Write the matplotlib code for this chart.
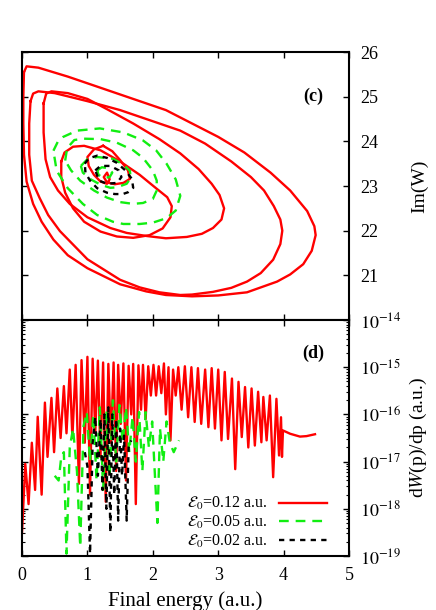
import numpy as np
import matplotlib
matplotlib.use("Agg")
import matplotlib.pyplot as plt
from matplotlib.ticker import LogLocator, NullFormatter, FixedLocator

plt.rcParams["font.family"] = ["Liberation Serif", "DejaVu Serif"]
plt.rcParams["mathtext.fontset"] = "stix"
plt.rcParams["lines.scale_dashes"] = False

# ---- panel (c): trajectories in the complex W plane (Re -> final energy, Im(W))
# E0 = 0.12 a.u. (red, solid) -- several loops of one spiral
red_a_x = [0.03, 0.07, 0.25, 0.7, 1.2, 1.7, 2.2, 2.6, 3.0, 3.4, 3.8, 4.1, 4.36, 4.47, 4.49,
           4.43, 4.3, 4.1, 3.9, 3.44, 3.0, 2.6, 2.2, 1.9, 1.5, 1.0, 0.7, 0.48, 0.3, 0.17,
           0.07, 0.03, 0.02, 0.02, 0.03]
red_a_y = [25.55, 25.68, 25.65, 25.45, 25.2, 24.95, 24.7, 24.4, 24.1, 23.75, 23.3, 22.9, 22.44,
           22.1, 21.9, 21.55, 21.25, 21.02, 20.86, 20.62, 20.55, 20.53, 20.56, 20.64, 20.8,
           21.16, 21.45, 21.8, 22.2, 22.6, 23.1, 23.7, 24.4, 25.0, 25.55]
red_b_x = [0.13, 0.17, 0.25, 0.5, 1.0, 1.5, 2.0, 2.42, 2.8, 3.2, 3.5, 3.7, 3.85, 3.95, 3.98,
           3.95, 3.84, 3.65, 3.44, 3.2, 2.92, 2.6, 2.42, 2.1, 1.8, 1.5, 1.0, 0.58, 0.4, 0.27,
           0.15, 0.11, 0.11, 0.13]
red_b_y = [24.9, 25.07, 25.12, 25.08, 24.9, 24.7, 24.45, 24.24, 23.95, 23.55, 23.2, 22.9, 22.55,
           22.25, 22.0, 21.7, 21.35, 21.05, 20.86, 20.72, 20.63, 20.57, 20.56, 20.62, 20.73,
           20.9, 21.36, 21.99, 22.35, 22.73, 23.12, 23.7, 24.4, 24.9]
red_c_x = [0.33, 0.37, 0.45, 0.7, 1.0, 1.3, 1.7, 2.1, 2.42, 2.7, 2.9, 3.02, 3.09, 3.05, 2.92,
           2.75, 2.52, 2.2, 1.91, 1.6, 1.35, 1.0, 0.73, 0.55, 0.43, 0.36, 0.33, 0.33]
red_c_y = [24.85, 25.07, 25.12, 25.08, 24.95, 24.72, 24.4, 24.05, 23.73, 23.38, 23.05, 22.8,
           22.5, 22.25, 22.06, 21.93, 21.86, 21.83, 21.88, 21.95, 22.06, 22.3, 22.6, 22.9,
           23.2, 23.6, 24.2, 24.85]
red_d_x = [0.6, 0.65, 0.78, 0.95, 1.2, 1.5, 1.8, 2.05, 2.22, 2.29, 2.27, 2.15, 1.95, 1.7,
           1.45, 1.2, 0.95, 0.78, 0.66, 0.6, 0.6]
red_d_y = [23.55, 23.75, 23.88, 23.9, 23.8, 23.55, 23.25, 22.95, 22.75, 22.55, 22.3, 22.05,
           21.9, 21.84, 21.87, 21.98, 22.2, 22.5, 22.85, 23.2, 23.55]
red_e_x = [1.24, 1.1, 1.0, 1.02, 1.1, 1.2, 1.3, 1.34, 1.3, 1.25, 1.3, 1.42, 1.55, 1.65, 1.62,
           1.5, 1.38, 1.24]
red_e_y = [23.9, 23.82, 23.65, 23.45, 23.25, 23.1, 23.05, 23.15, 23.3, 23.2, 23.08, 23.04,
           23.07, 23.16, 23.35, 23.58, 23.78, 23.9]

# E0 = 0.05 a.u. (green, dashed)
grn_a_x = [0.48, 0.55, 0.63, 0.84, 1.19, 1.55, 1.85, 2.05, 2.21, 2.35, 2.42, 2.35, 2.21, 2.0,
           1.8, 1.55, 1.39, 1.15, 0.93, 0.7, 0.53, 0.48]
grn_a_y = [23.79, 24.0, 24.1, 24.24, 24.29, 24.2, 24.02, 23.8, 23.5, 23.15, 22.78, 22.45,
           22.28, 22.18, 22.15, 22.15, 22.2, 22.35, 22.6, 22.95, 23.34, 23.79]
grn_b_x = [0.66, 0.69, 0.8, 0.94, 1.2, 1.45, 1.7, 1.85, 2.0, 2.06, 2.06, 2.0, 1.85, 1.7, 1.5,
           1.3, 1.1, 0.89, 0.75, 0.66]
grn_b_y = [23.57, 23.85, 24.03, 24.06, 24.05, 23.97, 23.8, 23.63, 23.35, 23.12, 22.9, 22.71,
           22.62, 22.6, 22.64, 22.74, 22.9, 23.12, 23.35, 23.57]
grn_c_x = [0.9, 1.0, 1.15, 1.39, 1.55, 1.65, 1.66, 1.6, 1.45, 1.35, 1.2, 1.05, 0.93, 0.9]
grn_c_y = [23.45, 23.6, 23.65, 23.61, 23.48, 23.34, 23.18, 23.05, 22.97, 22.96, 23.03, 23.15,
           23.3, 23.45]
grn_d_x = [1.15, 1.22, 1.32, 1.38, 1.34, 1.25, 1.17, 1.15]
grn_d_y = [23.35, 23.42, 23.4, 23.3, 23.2, 23.18, 23.25, 23.35]

# E0 = 0.02 a.u. (black, short dashes)
blk_a_x = [0.96, 1.02, 1.15, 1.3, 1.45, 1.58, 1.68, 1.7, 1.62, 1.54, 1.42, 1.3, 1.15, 1.04,
           0.97, 0.96]
blk_a_y = [23.5, 23.62, 23.68, 23.63, 23.52, 23.35, 23.16, 22.96, 22.86, 22.82, 22.82, 22.85,
           22.95, 23.12, 23.3, 23.5]
blk_b_x = [1.12, 1.2, 1.35, 1.48, 1.52, 1.45, 1.3, 1.18, 1.12]
blk_b_y = [23.35, 23.45, 23.45, 23.35, 23.2, 23.07, 23.05, 23.12, 23.35]

# ---- panel (d): spectra, values given as log10 of dW(p)/dp
red_spec_x = [0.00, 0.05, 0.10, 0.15, 0.20, 0.24, 0.30, 0.35, 0.39, 0.45, 0.49, 0.54, 0.59,
              0.64, 0.68, 0.73, 0.77, 0.82, 0.87, 0.91, 0.96, 1.00, 1.04, 1.08, 1.12, 1.16,
              1.20, 1.24, 1.28, 1.32, 1.36, 1.40, 1.44, 1.47, 1.51, 1.55, 1.59, 1.63, 1.67,
              1.70, 1.74, 1.78, 1.82, 1.85, 1.89, 1.93, 1.97, 2.01, 2.05, 2.09, 2.13, 2.17,
              2.20, 2.24, 2.27, 2.31, 2.35, 2.39, 2.44, 2.49, 2.54, 2.59, 2.64, 2.69, 2.74,
              2.80, 2.85, 2.90, 2.95, 3.00, 3.05, 3.10, 3.15, 3.21, 3.26, 3.31, 3.36, 3.41,
              3.46, 3.51, 3.56, 3.61, 3.66, 3.69, 3.74, 3.79, 3.84, 3.89, 3.93, 3.96, 3.975,
              3.99, 4.10, 4.25, 4.35, 4.48]
red_spec_log = [-18.5, -17.05, -17.9, -16.6, -17.6, -16.05, -17.7, -15.75, -16.9, -15.65,
                -16.8, -15.45, -16.5, -15.4, -16.4, -15.05, -16.5, -14.95, -17.47, -14.85,
                -16.6, -14.78, -17.7, -14.82, -16.4, -14.86, -16.9, -14.9, -17.85, -14.93,
                -16.6, -14.9, -17.2, -14.95, -16.2, -14.92, -17.4, -14.97, -16.0, -14.93,
                -17.9, -14.96, -15.9, -14.95, -16.1, -14.98, -15.6, -14.95, -15.6, -14.98,
                -15.55, -14.92, -16.0, -15.0, -16.55, -15.05, -15.6, -15.0, -15.9, -14.98,
                -16.06, -15.0, -16.16, -15.02, -16.2, -15.05, -16.27, -15.02, -16.3, -15.05,
                -16.55, -15.1, -16.52, -15.24, -17.16, -15.31, -16.48, -15.42, -16.7, -15.45,
                -16.66, -15.52, -16.59, -15.63, -16.55, -15.6, -17.33, -15.67, -16.87, -16.06,
                -16.9, -16.34, -16.41, -16.47, -16.46, -16.42]

grn_spec_x = [0.50, 0.56, 0.60, 0.64, 0.68, 0.73, 0.78, 0.84, 0.89, 0.94, 0.99, 1.04, 1.09,
              1.14, 1.19, 1.24, 1.29, 1.34, 1.39, 1.44, 1.49, 1.54, 1.59, 1.64, 1.69, 1.74,
              1.79, 1.84, 1.89, 1.94, 1.99, 2.04, 2.07, 2.11, 2.16, 2.21, 2.26, 2.32, 2.40]
grn_spec_log = [-17.3, -17.4, -16.9, -16.8, -18.95, -16.7, -16.3, -17.2, -18.8, -16.25,
                -15.95, -17.0, -16.0, -17.4, -15.85, -17.6, -15.9, -17.3, -15.7, -17.0,
                -15.8, -16.6, -15.85, -16.8, -16.05, -17.0, -15.95, -17.2, -15.95, -16.7,
                -16.15, -17.5, -18.3, -16.3, -17.0, -16.15, -16.6, -16.8, -16.55]

blk_spec_x = [0.96, 1.00, 1.04, 1.08, 1.12, 1.16, 1.20, 1.23, 1.26, 1.29, 1.32, 1.35, 1.38,
              1.41, 1.44, 1.47, 1.50, 1.53, 1.56, 1.60, 1.63, 1.67]
blk_spec_log = [-16.8, -17.1, -18.95, -16.6, -16.05, -17.3, -16.1, -17.6, -16.0, -18.0,
                -15.85, -18.5, -16.0, -17.7, -16.1, -18.25, -16.3, -17.3, -16.45, -18.25,
                -16.7, -16.55]

legend_labels = [r"$\mathcal{E}_0$=0.12 a.u.", r"$\mathcal{E}_0$=0.05 a.u.",
                 r"$\mathcal{E}_0$=0.02 a.u."]

RED = "#ff0000"
GREEN = "#11ee11"
LW = 1.7
GREEN_DASH = (0, (7.0, 5.0))
BLACK_DASH = (0, (3.8, 3.8))

fig = plt.figure(figsize=(4.36, 6.10), dpi=100)
ax1 = fig.add_axes([0.0505, 0.4754, 0.75, 0.4393])
ax2 = fig.add_axes([0.0505, 0.0885, 0.75, 0.3869])

for xs, ys in [(red_a_x, red_a_y), (red_b_x, red_b_y), (red_c_x, red_c_y),
               (red_d_x, red_d_y), (red_e_x, red_e_y)]:
    ax1.plot(xs, ys, color=RED, lw=LW, solid_joinstyle="round")
for xs, ys in [(grn_a_x, grn_a_y), (grn_b_x, grn_b_y), (grn_c_x, grn_c_y), (grn_d_x, grn_d_y)]:
    ax1.plot(xs, ys, color=GREEN, lw=LW, linestyle=GREEN_DASH)
for xs, ys in [(blk_a_x, blk_a_y), (blk_b_x, blk_b_y)]:
    ax1.plot(xs, ys, color="black", lw=LW, linestyle=BLACK_DASH)

ax2.plot(red_spec_x, 10.0 ** np.array(red_spec_log), color=RED, lw=LW, label=legend_labels[0])
ax2.plot(grn_spec_x, 10.0 ** np.array(grn_spec_log), color=GREEN, lw=LW,
         linestyle=GREEN_DASH, label=legend_labels[1])
ax2.plot(blk_spec_x, 10.0 ** np.array(blk_spec_log), color="black", lw=LW,
         linestyle=BLACK_DASH, label=legend_labels[2])

for ax in (ax1, ax2):
    ax.set_xlim(0, 5)
    ax.set_xticks(range(6))
    for sp in ax.spines.values():
        sp.set_linewidth(1.5)
    ax.tick_params(which="both", direction="in", top=True, bottom=True, left=True,
                   right=True, labelleft=False, labelright=True, labelsize=13)
    ax.tick_params(which="major", length=4, width=1, pad=8)
    ax.tick_params(which="minor", length=2, width=0.8)

ax1.set_ylim(20, 26)
ax1.set_yticks([21, 22, 23, 24, 25, 26])
ax1.tick_params(labelbottom=False)
ax1.set_ylabel("Im(W)", fontsize=14)
ax1.yaxis.set_label_position("right")
ax1.yaxis.set_label_coords(1.19, 0.5)
ax1.text(0.89, 0.835, "(c)", transform=ax1.transAxes, fontsize=13, fontweight="bold",
         ha="center", va="center")

ax2.set_yscale("log")
ax2.set_ylim(1e-19, 1e-14)
ax2.yaxis.set_major_locator(FixedLocator([1e-19, 1e-18, 1e-17, 1e-16, 1e-15, 1e-14]))
ax2.yaxis.set_major_formatter(plt.FuncFormatter(
    lambda v, pos: r"$10^{%d}$" % int(round(np.log10(v)))))
ax2.yaxis.set_minor_locator(LogLocator(base=10, subs=range(2, 10)))
ax2.yaxis.set_minor_formatter(NullFormatter())
ax2.set_ylabel(r"d$\mathit{W}$(p)/dp (a.u.)", fontsize=14)
ax2.yaxis.set_label_position("right")
ax2.yaxis.set_label_coords(1.18, 0.5)
ax2.set_xlabel("Final energy (a.u.)", fontsize=15)
ax2.xaxis.set_label_coords(0.5, -0.15)
ax2.text(0.89, 0.86, "(d)", transform=ax2.transAxes, fontsize=13, fontweight="bold",
         ha="center", va="center")
ax2.legend(loc="lower right", bbox_to_anchor=(0.951, 0.0), frameon=False, markerfirst=False,
           handlelength=3.0, handletextpad=0.7, labelspacing=0.1, fontsize=11.5,
           borderaxespad=0.0)

fig.savefig("out.png", dpi=100)
